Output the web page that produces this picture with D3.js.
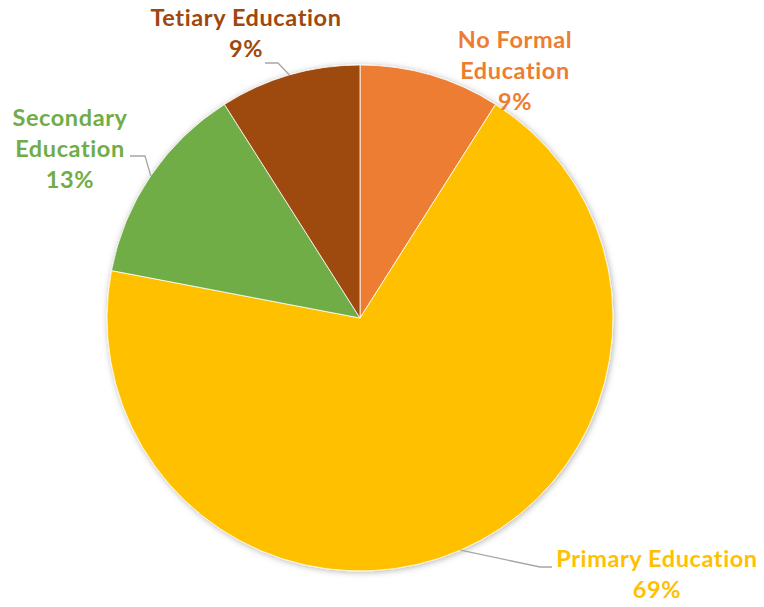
<!DOCTYPE html>
<html>
<head>
<meta charset="utf-8">
<script src="https://cdn.jsdelivr.net/npm/d3@7/dist/d3.min.js"></script>
<style>
  html, body { margin: 0; padding: 0; background: #fff; }
  svg { display: block; }
  text { font-family: Lato, "Open Sans", sans-serif; font-weight: 700; letter-spacing: 0.6px; }
</style>
</head>
<body>
<svg id="chart" width="764" height="607"></svg>
<script>
// Share of respondents by education level
const categories = ["No Formal Education", "Primary Education", "Secondary Education", "Tetiary Education"];
const values = [9, 69, 13, 9];
const colors = ["#ED7D31", "#FFC000", "#70AD47", "#9E480E"];
// label lines as they are broken on the chart
const labelLines = [
  ["No Formal", "Education", "9%"],
  ["Primary Education", "69%"],
  ["Secondary", "Education", "13%"],
  ["Tetiary Education", "9%"]
];

const width = 764, height = 607;
const cx = 360, cy = 318, radius = 253;
const fontSize = 23.5, lineHeight = 31;

const svg = d3.select("#chart");

const defs = svg.append("defs");
const shadow = defs.append("filter").attr("id", "pieShadow")
  .attr("x", "-10%").attr("y", "-10%").attr("width", "120%").attr("height", "120%");
shadow.append("feDropShadow")
  .attr("dx", 1).attr("dy", 1).attr("stdDeviation", 3)
  .attr("flood-color", "#000").attr("flood-opacity", 0.3);

const data = categories.map((c, i) => ({ name: c, value: values[i], color: colors[i], lines: labelLines[i] }));

const pie = d3.pie().value(d => d.value).sort(null);
const arc = d3.arc().innerRadius(0).outerRadius(radius);
const arcs = pie(data);

const g = svg.append("g").attr("transform", `translate(${cx},${cy})`);
g.append("g").attr("filter", "url(#pieShadow)")
  .selectAll("path").data(arcs).join("path")
  .attr("d", arc)
  .attr("fill", d => d.data.color)
  .attr("stroke", "#fff")
  .attr("stroke-width", 0.8);

// label anchors (centre of text block, first baseline) and leader line routes
const labelPlacement = [
  { x: 515, y: 48, leader: null },
  { x: 657, y: 567, leader: { elbow: [540, 567], end: [552, 567] } },
  { x: 70, y: 126, leader: { elbow: [145, 156], end: [130, 156] } },
  { x: 246, y: 26, leader: { elbow: [278, 63], end: [265, 63] } }
];

// leader lines run from the slice edge at its mid-angle to the label
arcs.forEach((a, i) => {
  const p = labelPlacement[i];
  if (!p.leader) return;
  const mid = (a.startAngle + a.endAngle) / 2;
  const r = radius;
  const sx = cx + r * Math.sin(mid), sy = cy - r * Math.cos(mid);
  svg.append("polyline")
    .attr("points", [[sx, sy], p.leader.elbow, p.leader.end].map(q => q.join(",")).join(" "))
    .attr("fill", "none")
    .attr("stroke", "#A6A6A6")
    .attr("stroke-width", 1.3);
});

const labels = svg.append("g");
data.forEach((d, i) => {
  const p = labelPlacement[i];
  const t = labels.append("text")
    .attr("text-anchor", "middle")
    .attr("fill", d.color)
    .attr("font-size", fontSize);
  d.lines.forEach((ln, j) => {
    t.append("tspan").attr("x", p.x).attr("y", p.y + j * lineHeight).text(ln);
  });
});
</script>
</body>
</html>
